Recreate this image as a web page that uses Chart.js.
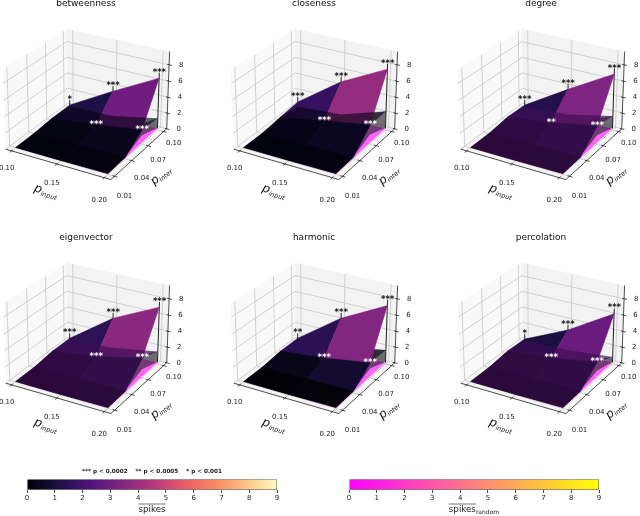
<!DOCTYPE html>
<html>
<head>
<meta charset="utf-8">
<script src="https://cdn.jsdelivr.net/npm/chart.js@4"></script>
<style>
  html, body { margin: 0; padding: 0; background: #fff; overflow: hidden; width: 640px; height: 516px; }
  #wrap { position: relative; width: 640px; height: 516px; overflow: hidden; }
  .box { position: absolute; }
</style>
</head>
<body>
<div id="wrap"></div>
<script>
// =======================================================
// Data
// =======================================================

const pInput = [0.10, 0.15, 0.20];
const pInter = [0.01, 0.04, 0.07, 0.10];
const zTicks = [0, 2, 4, 6, 8];
const barTicks = [0, 1, 2, 3, 4, 5, 6, 7, 8, 9];

const titles = ["betweenness", "closeness", "degree", "eigenvector", "harmonic", "percolation"];

// mean spikes, one row per pInter, one column per pInput
const betweennessZ = [[0.05, 0.05, 0.10], [0.10, 0.15, 0.20], [0.30, 0.90, 1.80], [0.30, 3.50, 6.50]];
const closenessZ   = [[0.05, 0.05, 0.10], [0.10, 0.15, 0.20], [0.40, 1.40, 2.40], [0.70, 4.70, 7.60]];
const degreeZ      = [[0.05, 0.05, 0.10], [0.10, 0.15, 0.20], [0.40, 1.20, 2.30], [0.30, 3.75, 7.00]];
const eigenvectorZ = [[0.05, 0.05, 0.10], [0.10, 0.15, 0.20], [0.40, 1.20, 2.50], [0.40, 4.40, 7.10]];
const harmonicZ    = [[0.05, 0.05, 0.10], [0.10, 0.15, 0.20], [0.40, 1.00, 1.90], [0.40, 4.40, 7.30]];
const percolationZ = [[0.05, 0.05, 0.10], [0.10, 0.15, 0.20], [0.40, 1.00, 2.00], [0.30, 2.90, 6.30]];

// the low translucent sheet lying over the surface
const betweennessLow = [[0.05, 0.05, 0.10], [0.10, 0.15, 0.20], [0.30, 0.90, 1.80], [0.10, 0.30, 1.50]];
const closenessLow   = [[0.05, 0.05, 0.10], [0.10, 0.15, 0.20], [0.40, 1.40, 2.40], [0.10, 0.50, 2.40]];
const degreeLow      = [[0.05, 0.05, 0.10], [0.10, 0.15, 0.20], [0.40, 1.20, 2.30], [0.10, 0.50, 1.80]];
const eigenvectorLow = [[0.05, 0.05, 0.10], [0.10, 0.15, 0.20], [0.40, 1.20, 2.50], [0.10, 0.60, 1.60]];
const harmonicLow    = [[0.05, 0.05, 0.10], [0.10, 0.15, 0.20], [0.40, 1.00, 1.90], [0.10, 0.30, 1.80]];
const percolationLow = [[0.05, 0.05, 0.10], [0.10, 0.15, 0.20], [0.40, 1.00, 2.00], [0.10, 0.30, 0.90]];

// spikes of the random control, same for every panel as far as one can read
const randomZ = [[0.05, 0.05, 0.05], [0.05, 0.05, 0.10], [0.05, 0.10, 0.15], [0.05, 0.10, 0.20]];

// side of the low sheet along pInput = 0.20: [top at 0.10, top at 0.07, foot at 0.07]
const sideZ = [
  [1.5, 2.6, 1.1], [2.4, 3.8, 1.2], [1.8, 3.2, 1.1],
  [1.6, 3.0, 1.1], [1.8, 3.7, 1.2], [0.9, 2.4, 0.9]
];

const backStars = [
  ["*", "***", "***"], ["***", "***", "***"], ["***", "***", "***"],
  ["***", "***", "***"], ["**", "***", "***"], ["*", "***", "***"]
];
const midStars = [
  ["***", "***"], ["***", "***"], ["**", "***"],
  ["***", "***"], ["***", "***"], ["***", "***"]
];

const surfaces = [betweennessZ, closenessZ, degreeZ, eigenvectorZ, harmonicZ, percolationZ];
const lowSheets = [betweennessLow, closenessLow, degreeLow, eigenvectorLow, harmonicLow, percolationLow];

const pValueCaption = "*** p < 0.0002    ** p < 0.0005    * p < 0.001";
const magmaStops = ["#000004", "#1c1044", "#4f127b", "#812581", "#b5367a", "#e55c68", "#fb8761", "#fec287", "#fcfdbf"];
const springStops = ["#ff00ff", "#ffff00"];

// =======================================================
// Helpers
// =======================================================

const FONT = "'DejaVu Sans', sans-serif";
const xRange = [0.0932, 0.2068];
const yRange = [0.0039, 0.1061];
const zRange = [0, 9.6];

// panel view: elevation, azimuth, screen scale and centre
const ELEV = 26 * Math.PI / 180;
const AZIM = -60 * Math.PI / 180;
const DIST = 10;
const BOX = [1.1428, 1.1428, 0.83];
const SCALE_X = 1050;
const SCALE_Y = 1045;
const CENTER_X = 87.7;
const CENTER_Y = 101;

function project(fx, fy, fz) {
  const nx = Math.cos(ELEV) * Math.cos(AZIM);
  const ny = Math.cos(ELEV) * Math.sin(AZIM);
  const nz = Math.sin(ELEV);
  const ul = Math.hypot(ny, nx);
  const ux = -ny / ul, uy = nx / ul;
  const vx = -nz * uy, vy = nz * ux, vz = nx * uy - ny * ux;
  const a = (fx - 0.5) * BOX[0], b = (fy - 0.5) * BOX[1], c = (fz - 0.5) * BOX[2];
  const d = DIST - (a * nx + b * ny + c * nz);
  return {
    x: CENTER_X + SCALE_X * (a * ux + b * uy) / d,
    y: CENTER_Y - SCALE_Y * (a * vx + b * vy + c * vz) / d
  };
}

function toBox(x, y, z) {
  return project(
    (x - xRange[0]) / (xRange[1] - xRange[0]),
    (y - yRange[0]) / (yRange[1] - yRange[0]),
    (z - zRange[0]) / (zRange[1] - zRange[0])
  );
}

function ramp(stops, t) {
  t = Math.max(0, Math.min(1, t)) * (stops.length - 1);
  const i = Math.min(Math.floor(t), stops.length - 2);
  const f = t - i;
  const hex = s => [1, 3, 5].map(k => parseInt(s.substr(k, 2), 16));
  const a = hex(stops[i]), b = hex(stops[i + 1]);
  return a.map((v, k) => Math.round(v + (b[k] - v) * f));
}

function rgba(c, alpha) {
  return "rgba(" + c[0] + "," + c[1] + "," + c[2] + "," + alpha + ")";
}

function meanOf(grid, r, c) {
  return (grid[r][c] + grid[r][c + 1] + grid[r + 1][c] + grid[r + 1][c + 1]) / 4;
}

function cellCorners(grid, r, c) {
  return [
    toBox(pInput[c], pInter[r], grid[r][c]),
    toBox(pInput[c + 1], pInter[r], grid[r][c + 1]),
    toBox(pInput[c + 1], pInter[r + 1], grid[r + 1][c + 1]),
    toBox(pInput[c], pInter[r + 1], grid[r + 1][c])
  ];
}

function facet(points, color, edge) {
  return {
    data: points.concat([points[0]]),
    showLine: true,
    pointRadius: 0,
    borderWidth: edge ? 0.5 : 0,
    borderColor: color,
    facetColor: color,
    clip: false
  };
}

function stroke(points, color, width) {
  return {
    data: points,
    showLine: true,
    pointRadius: 0,
    borderWidth: width,
    borderColor: color,
    clip: false
  };
}

// =======================================================
// One 3D panel: panes, grid, surfaces, stems
// =======================================================

function panelDatasets(p) {
  const sets = [];
  const main = surfaces[p], low = lowSheets[p];
  const [x0, x1] = xRange, [y0, y1] = yRange, [z0, z1] = zRange;

  sets.push(facet([toBox(x0, y0, z0), toBox(x0, y1, z0), toBox(x0, y1, z1), toBox(x0, y0, z1)], "#f9f9f9"));
  sets.push(facet([toBox(x0, y1, z0), toBox(x1, y1, z0), toBox(x1, y1, z1), toBox(x0, y1, z1)], "#f3f3f3"));
  sets.push(facet([toBox(x0, y0, z0), toBox(x1, y0, z0), toBox(x1, y1, z0), toBox(x0, y1, z0)], "#f5f5f5"));

  const gridColor = "#c6c6c6";
  pInput.forEach(x => {
    sets.push(stroke([toBox(x, y0, z0), toBox(x, y1, z0), toBox(x, y1, z1)], gridColor, 0.8));
  });
  pInter.forEach(y => {
    sets.push(stroke([toBox(x1, y, z0), toBox(x0, y, z0), toBox(x0, y, z1)], gridColor, 0.8));
  });
  zTicks.forEach(z => {
    sets.push(stroke([toBox(x0, y0, z), toBox(x0, y1, z), toBox(x1, y1, z)], gridColor, 0.8));
  });

  // axis lines and tick marks
  sets.push(stroke([toBox(x0, y0, z0), toBox(x1, y0, z0)], "#222", 0.8));
  sets.push(stroke([toBox(x1, y0, z0), toBox(x1, y1, z0)], "#222", 0.8));
  sets.push(stroke([toBox(x1, y1, z0), toBox(x1, y1, z1)], "#222", 0.8));
  pInput.forEach(x => {
    sets.push(stroke([toBox(x, y0 + 0.002, z0), toBox(x, y0 - 0.003, z0)], "#222", 0.8));
  });
  pInter.forEach(y => {
    sets.push(stroke([toBox(x1 - 0.002, y, z0), toBox(x1 + 0.003, y, z0)], "#222", 0.8));
  });
  zTicks.forEach(z => {
    sets.push(stroke([toBox(x1 - 0.002, y1, z), toBox(x1 + 0.003, y1, z)], "#222", 0.8));
  });

  // random control underneath
  for (let r = 2; r >= 0; r--) {
    for (let c = 0; c < 2; c++) {
      const col = ramp(springStops, meanOf(randomZ, r, c) / 9);
      sets.push(facet(cellCorners(randomZ, r, c), rgba(col, 0.6)));
    }
  }

  // stems of the back row go behind the surface
  pInput.forEach((x, c) => {
    sets.push(stroke([toBox(x, 0.10, 0.2), toBox(x, 0.10, main[3][c] + 0.65)], "#222", 1));
  });

  // side of the low sheet along pInput = 0.20
  const side = sideZ[p];
  sets.push(facet([
    toBox(0.20, 0.10, side[0]), toBox(0.20, 0.07, side[1]), toBox(0.20, 0.045, 0.4),
    toBox(0.20, 0.07, side[2]), toBox(0.20, 0.10, 0.3)
  ], "rgba(40,36,46,0.65)"));

  const tint = (p === 2 || p === 3 || p === 5) ? "rgba(62,14,82,0.68)" : "rgba(4,3,16,0.6)";

  // harmonic has its low sheet behind the surface
  if (p === 4) pushSheet(sets, low, tint);

  for (let r = 2; r >= 0; r--) {
    for (let c = 0; c < 2; c++) {
      const col = ramp(magmaStops, meanOf(main, r, c) / 9.6);
      sets.push(facet(cellCorners(main, r, c), rgba(col, 1), true));
    }
  }

  if (p !== 4) pushSheet(sets, low, tint);

  // later in the list means drawn on top
  sets.forEach((s, i) => { s.order = -i; });
  return sets;
}

function pushSheet(sets, low, tint) {
  for (let r = 2; r >= 0; r--) {
    for (let c = 0; c < 2; c++) {
      sets.push(facet(cellCorners(low, r, c), tint));
    }
  }
}

// =======================================================
// Plugins
// =======================================================

// closed polygons: fill the dataset's own points just before it is drawn
const facetFill = {
  id: "facetFill",
  beforeDatasetDraw(chart, args) {
    const color = chart.data.datasets[args.index].facetColor;
    if (!color) return;
    const pts = args.meta.data;
    const ctx = chart.ctx;
    ctx.save();
    ctx.beginPath();
    pts.forEach((pt, i) => {
      if (i === 0) ctx.moveTo(pt.x, pt.y);
      else ctx.lineTo(pt.x, pt.y);
    });
    ctx.closePath();
    ctx.fillStyle = color;
    ctx.fill();
    ctx.restore();
  }
};

function drawMathLabel(ctx, x, y, angle, letter, sub) {
  ctx.save();
  ctx.translate(x, y);
  ctx.rotate(angle);
  ctx.fillStyle = "#111";
  ctx.textBaseline = "alphabetic";
  ctx.textAlign = "left";
  ctx.font = "italic 12px " + FONT;
  const w1 = ctx.measureText(letter).width;
  ctx.font = "italic 6.5px " + FONT;
  const w2 = ctx.measureText(sub).width;
  const start = -(w1 + w2) / 2;
  ctx.font = "italic 12px " + FONT;
  ctx.fillText(letter, start, 3);
  ctx.font = "italic 6.5px " + FONT;
  ctx.fillText(sub, start + w1, 5);
  ctx.restore();
}

const panelText = {
  id: "panelText",
  afterDatasetsDraw(chart, args, opts) {
    const ctx = chart.ctx;
    const p = opts.panel;
    const sx = v => chart.scales.x.getPixelForValue(v);
    const sy = v => chart.scales.y.getPixelForValue(v);
    const put = (pt, dx, dy, text) => ctx.fillText(text, sx(pt.x + dx), sy(pt.y + dy));
    ctx.save();
    ctx.textAlign = "center";
    ctx.textBaseline = "middle";
    ctx.fillStyle = "#222";
    ctx.font = "7px " + FONT;
    pInput.forEach(x => put(toBox(x, yRange[0], 0), -5, 17 + 50 * (x - 0.10), x.toFixed(2)));
    pInter.forEach(y => put(toBox(xRange[1], y, 0), 10, 12 + 8 * (0.10 - y) / 0.09, y.toFixed(2)));
    zTicks.forEach(z => put(toBox(xRange[1], yRange[1], z), 12, 0, String(z)));

    ctx.font = "bold 8.5px " + FONT;
    ctx.fillStyle = "#111";
    backStars[p].forEach((s, c) => {
      put(toBox(pInput[c], 0.10, surfaces[p][3][c] + 1), 0, 2.5, s);
    });
    ctx.fillStyle = "#fff";
    midStars[p].forEach((s, c) => {
      put(toBox(pInput[c + 1], 0.07, surfaces[p][2][c + 1] + 0.3), 0, 2.5, s);
    });
    ctx.restore();

    drawMathLabel(ctx, sx(46), sy(192), 18 * Math.PI / 180, "p", "input");
    drawMathLabel(ctx, sx(161), sy(176), -40 * Math.PI / 180, "p", "inter");
  }
};

const barCaption = {
  id: "barCaption",
  afterDraw(chart, args, opts) {
    const ctx = chart.ctx;
    const top = chart.height - 6;
    ctx.save();
    ctx.fillStyle = "#222";
    ctx.textBaseline = "middle";
    ctx.textAlign = "left";
    ctx.font = "8.7px " + FONT;
    const w1 = ctx.measureText("spikes").width;
    ctx.font = "6px " + FONT;
    const w2 = opts.sub ? ctx.measureText(opts.sub).width : 0;
    const left = chart.scales.x.getPixelForValue(4.5) - (w1 + w2) / 2;
    ctx.font = "8.7px " + FONT;
    ctx.fillText("spikes", left, top);
    if (opts.sub) {
      ctx.font = "6px " + FONT;
      ctx.fillText(opts.sub, left + w1, top + 2.5);
    }
    ctx.strokeStyle = "#555";
    ctx.lineWidth = 0.8;
    ctx.beginPath();
    ctx.moveTo(left, top - 6);
    ctx.lineTo(left + w1, top - 6);
    ctx.stroke();
    ctx.restore();
  }
};

// =======================================================
// Building the page
// =======================================================

function addCanvas(left, top, width, height) {
  const box = document.createElement("div");
  box.className = "box";
  box.style.left = left + "px";
  box.style.top = top + "px";
  box.style.width = width + "px";
  box.style.height = height + "px";
  const cv = document.createElement("canvas");
  box.appendChild(cv);
  document.getElementById("wrap").appendChild(box);
  return cv;
}

function drawPanel(p) {
  const ox = (p % 3) * 227.5;
  const oy = p < 3 ? 0 : 234;
  const cv = addCanvas(ox - 14, oy - 2, 200, 224);
  new Chart(cv, {
    type: "scatter",
    data: { datasets: panelDatasets(p) },
    options: {
      responsive: true,
      maintainAspectRatio: false,
      animation: false,
      events: [],
      layout: { padding: 0 },
      elements: { line: { tension: 0 } },
      scales: {
        x: { display: false, min: -14, max: 186 },
        y: { display: false, min: 10, max: 222, reverse: true }
      },
      plugins: {
        legend: { display: false },
        tooltip: { enabled: false },
        title: {
          display: true,
          text: titles[p],
          color: "#111",
          font: { family: FONT, size: 9, weight: "normal", lineHeight: 1.2 },
          padding: 0
        },
        panelText: { panel: p }
      }
    },
    plugins: [facetFill, panelText]
  });
}

function drawColorBar(left, stops, caption, sub) {
  const cv = addCanvas(left, 468, 270, 48);
  new Chart(cv, {
    type: "bar",
    data: {
      labels: ["spikes"],
      datasets: [{
        data: [9],
        categoryPercentage: 1,
        barPercentage: 1,
        borderWidth: 1,
        borderColor: "#777",
        backgroundColor(c) {
          const area = c.chart.chartArea;
          if (!area) return "#000";
          const g = c.chart.ctx.createLinearGradient(area.left, 0, area.right, 0);
          stops.forEach((s, i) => g.addColorStop(i / (stops.length - 1), s));
          return g;
        }
      }]
    },
    options: {
      indexAxis: "y",
      responsive: true,
      maintainAspectRatio: false,
      animation: false,
      events: [],
      layout: { padding: { left: 10, right: 10, top: caption ? 0 : 11.2, bottom: 0 } },
      scales: {
        x: {
          min: 0,
          max: 9,
          afterFit(scale) { scale.height = 26; },
          afterBuildTicks(scale) { scale.ticks = barTicks.map(v => ({ value: v })); },
          grid: { drawOnChartArea: false, tickLength: 3, color: "#222", lineWidth: 0.8 },
          border: { display: false },
          ticks: { color: "#222", padding: 1, maxRotation: 0, font: { family: FONT, size: 7 } }
        },
        y: { display: false }
      },
      plugins: {
        legend: { display: false },
        tooltip: { enabled: false },
        title: {
          display: !!caption,
          text: caption,
          color: "#222",
          font: { family: FONT, size: 5.7, weight: "bold", lineHeight: 1.2 },
          padding: { top: 0, bottom: 4.36 }
        },
        barCaption: { sub: sub }
      }
    },
    plugins: [barCaption]
  });
}

titles.forEach((t, p) => drawPanel(p));
drawColorBar(17, magmaStops, pValueCaption, "");
drawColorBar(339, springStops, "", "random");
</script>
</body>
</html>
